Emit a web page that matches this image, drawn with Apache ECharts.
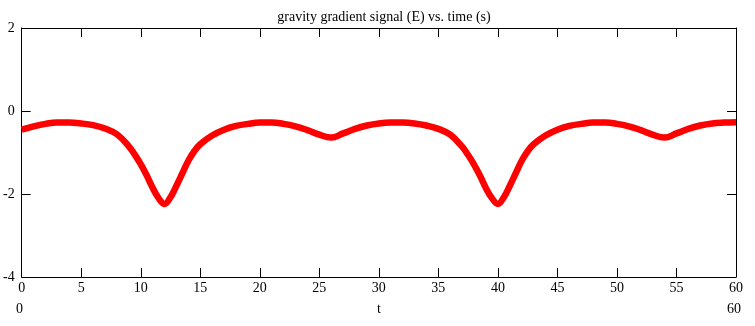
<!DOCTYPE html>
<html>
<head>
<meta charset="utf-8">
<script src="https://cdn.jsdelivr.net/npm/echarts@6/dist/echarts.min.js"></script>
<style>
  html, body { margin: 0; padding: 0; background: #fff; }
  #chart { width: 755px; height: 326px; }
</style>
</head>
<body>
<div id="chart"></div>
<script>
// time (s) and gravity gradient signal (E)
var time = [
  0, 1, 2, 3, 4, 5, 6, 7, 8, 9, 9.5, 10, 10.5, 11, 11.5, 12, 12.5, 13, 13.5, 14, 14.5, 15,
  16, 17, 18, 19, 20, 21, 22, 23, 24, 25, 26, 27, 28, 29, 30, 31, 32, 33,
  34, 35, 36, 37, 37.5, 38, 38.5, 39, 39.5, 40, 40.5, 41, 41.5, 42, 42.5, 43,
  44, 45, 46, 47, 48, 49, 50, 51, 52, 53, 54, 55, 56, 57, 58, 59, 60
]
var signal = [
  -0.45, -0.37, -0.31, -0.28, -0.28, -0.30, -0.34, -0.42, -0.56, -0.85, -1.05, -1.28, -1.55, -1.85, -2.10, -2.24, -2.08, -1.80, -1.50, -1.20, -0.97, -0.80,
  -0.59, -0.45, -0.36, -0.31, -0.28, -0.28, -0.31, -0.37, -0.46, -0.57, -0.64, -0.54, -0.43, -0.35, -0.30, -0.28, -0.28, -0.30,
  -0.35, -0.43, -0.57, -0.86, -1.06, -1.29, -1.56, -1.86, -2.10, -2.24, -2.08, -1.80, -1.50, -1.20, -0.97, -0.80,
  -0.59, -0.45, -0.36, -0.31, -0.28, -0.28, -0.31, -0.37, -0.46, -0.57, -0.64, -0.54, -0.43, -0.35, -0.30, -0.28, -0.27
]
var xTickValues = [0, 5, 10, 15, 20, 25, 30, 35, 40, 45, 50, 55, 60]
var yTickValues = [-4, -2, 0, 2]

var font = 'Liberation Serif, Times New Roman, serif'
var fontSize = 14
var tickLen = 9
var chart = echarts.init(document.getElementById('chart'))

var xMin = xTickValues[0], xMax = xTickValues[xTickValues.length - 1]
var yMin = yTickValues[0], yMax = yTickValues[yTickValues.length - 1]

// box frame on all four sides; inward ticks come from the custom series below
function frameAxis(extra) {
  return Object.assign({
    type: 'value',
    axisLine: { show: true, onZero: false, lineStyle: { color: '#000', width: 1 } },
    axisTick: { show: false },
    splitLine: { show: false }
  }, extra)
}

function tickLine(x1, y1, x2, y2) {
  return {
    type: 'line',
    shape: { x1: x1, y1: y1, x2: x2, y2: y2 },
    style: { stroke: '#000', lineWidth: 1 }
  }
}

// vertical ticks at the bottom and top edges
function renderXTick(params, api) {
  var v = api.value(0)
  var b = api.coord([v, yMin])
  var t = api.coord([v, yMax])
  var x = Math.round(b[0]) + 0.5
  return {
    type: 'group',
    children: [tickLine(x, b[1], x, b[1] - tickLen), tickLine(x, t[1], x, t[1] + tickLen)]
  }
}

// horizontal ticks at the left and right edges
function renderYTick(params, api) {
  var v = api.value(1)
  var l = api.coord([xMin, v])
  var r = api.coord([xMax, v])
  var y = Math.round(l[1]) + 0.5
  return {
    type: 'group',
    children: [tickLine(l[0], y, l[0] + tickLen, y), tickLine(r[0], y, r[0] - tickLen, y)]
  }
}

chart.setOption({
  animation: false,
  title: {
    text: 'gravity gradient signal (E) vs. time (s)',
    left: 379,
    top: 5,
    textAlign: 'center',
    textStyle: { fontFamily: font, fontSize: fontSize, fontWeight: 'normal', color: '#000' }
  },
  grid: { left: 21, right: 19, top: 28, bottom: 49, containLabel: false },
  xAxis: [
    frameAxis({
      position: 'bottom', min: xMin, max: xMax, interval: xTickValues[1] - xTickValues[0],
      axisLabel: { fontFamily: font, fontSize: fontSize, color: '#000', margin: 4 }
    }),
    frameAxis({
      position: 'top', min: xMin, max: xMax, interval: xTickValues[1] - xTickValues[0],
      axisLabel: { show: false }
    })
  ],
  yAxis: [
    frameAxis({
      position: 'left', min: yMin, max: yMax, interval: yTickValues[1] - yTickValues[0],
      axisLabel: { fontFamily: font, fontSize: fontSize, color: '#000', margin: 7 }
    }),
    frameAxis({
      position: 'right', min: yMin, max: yMax, interval: yTickValues[1] - yTickValues[0],
      axisLabel: { show: false }
    })
  ],
  graphic: [
    { type: 'text', left: 16, top: 302, style: { text: '0', fontFamily: font, fontSize: fontSize, fill: '#000' } },
    { type: 'text', left: 377, top: 302, style: { text: 't', fontFamily: font, fontSize: fontSize, fill: '#000' } },
    { type: 'text', left: 727, top: 302, style: { text: '60', fontFamily: font, fontSize: fontSize, fill: '#000' } }
  ],
  series: [
    {
      type: 'line',
      data: time.map(function (t, i) { return [t, signal[i]] }),
      smooth: 0.4,
      showSymbol: false,
      lineStyle: { color: '#ff0000', width: 6.5 }
    },
    {
      type: 'custom',
      silent: true,
      clip: false,
      z: 5,
      renderItem: renderXTick,
      data: xTickValues.slice(1, -1).map(function (v) { return [v, yMin] })
    },
    {
      type: 'custom',
      silent: true,
      clip: false,
      z: 5,
      renderItem: renderYTick,
      data: yTickValues.slice(1, -1).map(function (v) { return [xMin, v] })
    }
  ]
})
</script>
</body>
</html>
